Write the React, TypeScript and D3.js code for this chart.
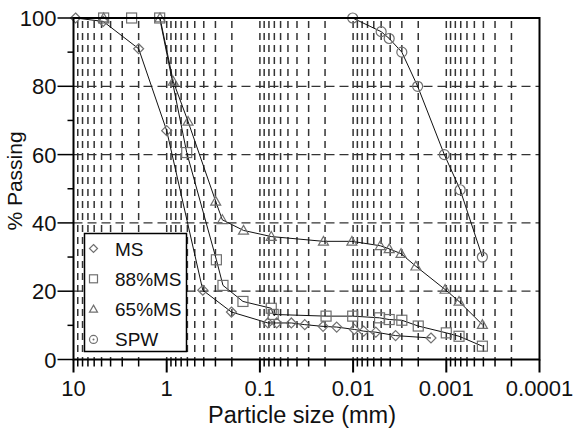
import React from "react";
import * as d3 from "d3";

// [particle size (mm), % passing]
const msData: [number, number][] = [
  [9.5, 100], [4.8, 99], [2.0, 91], [1.0, 67], [0.41, 20.3], [0.202, 13.9],
  [0.082, 10.7], [0.066, 10.7], [0.046, 10.7], [0.033, 10.2], [0.021, 9.7],
  [0.015, 9.5], [0.0097, 8.8], [0.0077, 8.3], [0.0057, 8.0], [0.0035, 7.0],
  [0.00146, 6.3],
];
const ms88Data: [number, number][] = [
  [4.75, 100], [2.38, 100], [1.19, 100], [0.61, 60.6], [0.293, 29.2],
  [0.249, 21.7], [0.152, 17], [0.0755, 15], [0.072, 13.2], [0.0195, 12.7],
  [0.0101, 12.7], [0.0052, 12.2], [0.0041, 11.7], [0.003, 11.5],
  [0.002, 9.8], [0.001, 7.8], [0.00073, 6.8], [0.00041, 3.9],
];
const ms65Data: [number, number][] = [
  [4.75, 100], [1.18, 100], [0.85, 81.4], [0.59, 69.7], [0.298, 46.3],
  [0.253, 40.9], [0.15, 37.8], [0.0755, 36], [0.0208, 34.6], [0.0103, 34.6],
  [0.0051, 33.3], [0.0041, 32.4], [0.00306, 31], [0.00212, 27.3],
  [0.00103, 20.5], [0.00073, 17], [0.00041, 10.2],
];
const spwData: [number, number][] = [
  [0.0101, 100], [0.005, 96], [0.0041, 94], [0.003, 90], [0.00203, 80],
  [0.00105, 60], [0.00071, 49.7], [0.00041, 30],
];

const seriesNames = ["MS", "88%MS", "65%MS", "SPW"];
const seriesMarkers = ["diamond", "square", "triangle", "circle"];
const xTickValues = [10, 1, 0.1, 0.01, 0.001, 0.0001];
const xTickLabels = ["10", "1", "0.1", "0.01", "0.001", "0.0001"];
const yTickValues = [0, 20, 40, 60, 80, 100];
const yMinorValues = [10, 30, 50, 70, 90];
const yGridValues = [20, 40, 60, 80];

const W = 575, H = 430;
const L = 73.5, R = 539.5, T = 18, B = 359.5;
const FONT = "'Liberation Sans', Arial, Helvetica, sans-serif";

function marker(kind: string, x: number, y: number, s: number, key: string) {
  const st = { fill: "none", stroke: "#707070", strokeWidth: 1.2 };
  const h = s / 2;
  if (kind === "diamond")
    return <path key={key} d={`M${x},${y - h}L${x + h},${y}L${x},${y + h}L${x - h},${y}Z`} {...st} />;
  if (kind === "square")
    return <rect key={key} x={x - h} y={y - h} width={s} height={s} {...st} />;
  if (kind === "triangle")
    return <path key={key} d={`M${x},${y - h}L${x + h},${y + h * 0.75}L${x - h},${y + h * 0.75}Z`} {...st} />;
  return <circle key={key} cx={x} cy={y} r={h} {...st} />;
}

export default function App() {
  const x = d3.scaleLog().domain([10, 0.0001]).range([L, R]);
  const y = d3.scaleLinear().domain([0, 100]).range([B, T]);

  const minor: number[] = [];
  for (let e = -4; e < 1; e++) {
    for (let k = 2; k <= 9; k++) minor.push(k * Math.pow(10, e));
  }
  const gridX = [...minor, 1, 0.1, 0.01, 0.001];

  const line = d3
    .line<[number, number]>()
    .x((d) => x(d[0]))
    .y((d) => y(d[1]));

  const all = [msData, ms88Data, ms65Data, spwData];

  return (
    <svg width={W} height={H} style={{ position: "absolute", left: 0, top: 0, background: "#fff" }} fontFamily={FONT}>
      <rect x={0} y={0} width={W} height={H} fill="#fff" />
      {/* grid */}
      {gridX.map((v, i) => (
        <line key={"gx" + i} x1={x(v)} x2={x(v)} y1={T + 3} y2={B} stroke="#333" strokeWidth={1.5} strokeDasharray="7,5" />
      ))}
      {yGridValues.map((v, i) => (
        <line key={"gy" + i} x1={L} x2={R} y1={y(v)} y2={y(v)} stroke="#333" strokeWidth={1.3} strokeDasharray="9,5" />
      ))}
      {/* series lines */}
      {all.map((data, i) => (
        <path key={"l" + i} d={line([...data].sort((a, b) => b[0] - a[0])) || ""} fill="none" stroke="#111" strokeWidth={1} />
      ))}
      {/* markers */}
      {all.map((data, i) =>
        data.map((d, j) => marker(seriesMarkers[i], x(d[0]), y(d[1]), 10, `m${i}-${j}`))
      )}
      {/* frame */}
      <rect x={L} y={T} width={R - L} height={B - T} fill="none" stroke="#000" strokeWidth={2} />
      {/* x ticks */}
      {minor.map((v, i) => (
        <line key={"xm" + i} x1={x(v)} x2={x(v)} y1={B} y2={B + 7} stroke="#000" strokeWidth={1.5} />
      ))}
      {xTickValues.map((v, i) => (
        <g key={"xt" + i}>
          <line x1={x(v)} x2={x(v)} y1={B} y2={B + 13} stroke="#000" strokeWidth={2} />
          <text x={x(v)} y={396} textAnchor="middle" fontSize={22} fill="#111">{xTickLabels[i]}</text>
        </g>
      ))}
      {/* y ticks */}
      {yMinorValues.map((v, i) => (
        <line key={"ym" + i} x1={L - 6} x2={L} y1={y(v)} y2={y(v)} stroke="#000" strokeWidth={1.5} />
      ))}
      {yTickValues.map((v, i) => (
        <g key={"yt" + i}>
          <line x1={L - 16} x2={L} y1={y(v)} y2={y(v)} stroke="#000" strokeWidth={1.5} />
          <text x={L - 17} y={y(v) + 8} textAnchor="end" fontSize={22} fill="#111">{v}</text>
        </g>
      ))}
      {/* axis titles */}
      <text x={302} y={423} textAnchor="middle" fontSize={23.5} fill="#111">Particle size (mm)</text>
      <text transform="translate(22,181) rotate(-90)" textAnchor="middle" fontSize={21} fill="#111">% Passing</text>
      {/* legend */}
      <rect x={84.5} y={233.5} width={102} height={118} fill="#fff" stroke="#000" strokeWidth={1.5} />
      {seriesNames.map((n, i) => {
        const cy = 248.5 + i * 30.3;
        return (
          <g key={"lg" + i}>
            {marker(seriesMarkers[i], 93.5, cy, 8, "lm" + i)}
            {i === 3 && <circle cx={93.5} cy={cy} r={1} fill="#707070" />}
            <text x={115} y={cy + 7} fontSize={19} fill="#111">{n}</text>
          </g>
        );
      })}
    </svg>
  );
}
